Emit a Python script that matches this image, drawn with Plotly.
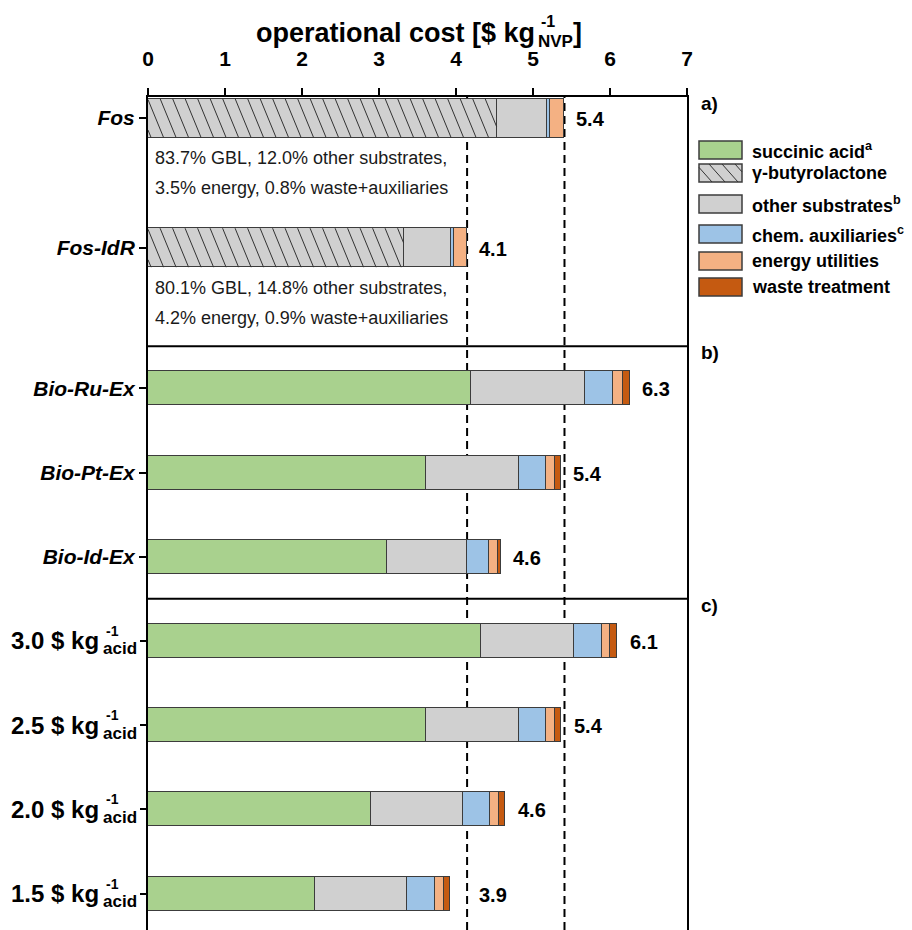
import numpy as np
import plotly.graph_objects as go

# ---------------- data ----------------
scenarios = ["Fos", "Fos-IdR", "Bio-Ru-Ex", "Bio-Pt-Ex", "Bio-Id-Ex",
             "3.0", "2.5", "2.0", "1.5"]
acid_prices = ["3.0", "2.5", "2.0", "1.5"]          # $ per kg succinic acid (panel c)

# cost contributions, $ per kg NVP
succinic_acid    = [None, None, 4.20, 3.61, 3.10, 4.33, 3.61, 2.90, 2.17]
gbl              = [4.528, 3.320, None, None, None, None, None, None, None]
other_substrates = [0.649, 0.613, 1.48, 1.21, 1.04, 1.20, 1.21, 1.19, 1.20]
chem_auxiliaries = [0.043, 0.037, 0.36, 0.35, 0.29, 0.36, 0.35, 0.35, 0.36]
energy_utilities = [0.189, 0.174, 0.13, 0.12, 0.12, 0.11, 0.12, 0.12, 0.11]
waste_treatment  = [None, None, 0.09, 0.07, 0.04, 0.09, 0.07, 0.08, 0.08]

fos_notes = [
    ["83.7% GBL, 12.0% other substrates,", "3.5% energy, 0.8% waste+auxiliaries"],
    ["80.1% GBL, 14.8% other substrates,", "4.2% energy, 0.9% waste+auxiliaries"],
]

components = [
    ("succinic acid", succinic_acid, "#a9d18e"),
    ("γ-butyrolactone", gbl, "#d0d0d0"),
    ("other substrates", other_substrates, "#d0d0d0"),
    ("chem. auxiliaries", chem_auxiliaries, "#9dc3e6"),
    ("energy utilities", energy_utilities, "#f4b183"),
    ("waste treatment", waste_treatment, "#c55a11"),
]

# ---------------- layout constants ----------------
W, H = 912, 930
L, R, T, B = 148, 225, 97, 0
PW, PH = W - L - R, H - T - B
ROW_PX = 84.2
row_pos = [0.25, 1.79, 3.46, 4.46, 5.46, 6.46, 7.46, 8.46, 9.46]
bar_w = [0.463, 0.463, 0.404, 0.404, 0.404, 0.404, 0.404, 0.404, 0.404]
label_shift = [10, 10, 10, 10, 10, 11, 11, 11, 27]
separators = [2.96, 5.96]
Y_MAX = PH / ROW_PX
X_MAX = 7
FONT = "Liberation Sans, Arial, sans-serif"
EDGE = "#3c3c3c"
N_NAMED = 5   # rows labelled by scenario name; the rest by acid price


def px_x(p):
    return (p - L) / PW


def px_y(p):
    return 1 - (p - T) / PH


def val(v):
    return 0.0 if v is None else v


totals = [sum(val(c[1][i]) for c in components) for i in range(len(scenarios))]

fig = go.Figure()

# stacked cost contributions
for name, vals, color in components:
    fig.add_trace(go.Bar(
        x=vals, y=row_pos, width=bar_w, orientation="h", name=name,
        marker=dict(color=color, line=dict(color=EDGE, width=1)),
        showlegend=False,
    ))

# diagonal hatching over the GBL segments
hx, hy = [], []
step = 12.5 * X_MAX / PW
slant = 16 * X_MAX / PW
for i, v in enumerate(gbl):
    if not v:
        continue
    x0, x1 = val(succinic_acid[i]), val(succinic_acid[i]) + v
    ytop, ybot = row_pos[i] - bar_w[i] / 2, row_pos[i] + bar_w[i] / 2
    for t in np.arange(x0 - slant + 0.04, x1, step):
        s_lo = max(0.0, (x0 - t) / slant)
        s_hi = min(1.0, (x1 - t) / slant)
        if s_hi <= s_lo:
            continue
        hx += [t + slant * s_lo, t + slant * s_hi, None]
        hy += [ytop + s_lo * (ybot - ytop), ytop + s_hi * (ybot - ytop), None]
fig.add_trace(go.Scatter(x=hx, y=hy, mode="lines", line=dict(color="#333333", width=1),
                         hoverinfo="skip", showlegend=False))

shapes = []
annotations = []

# fossil reference totals as dashed lines
for ref in totals[:2]:
    shapes.append(dict(type="line", xref="x", yref="paper", x0=ref, x1=ref, y0=0, y1=1,
                       line=dict(color="black", width=2, dash="8px,5px"), layer="below"))

# panel separators
for s in separators:
    shapes.append(dict(type="line", xref="paper", yref="y", x0=0, x1=1, y0=s, y1=s,
                       line=dict(color="black", width=2)))

# total value labels
for i, tot in enumerate(totals):
    annotations.append(dict(x=tot, y=row_pos[i], xref="x", yref="y", text=f"<b>{tot:.1f}</b>",
                            showarrow=False, xanchor="left", yanchor="middle",
                            xshift=label_shift[i], yshift=-1,
                            font=dict(family=FONT, size=20, color="black")))

# share notes under the fossil bars
for i, lines in enumerate(fos_notes):
    for j, line in enumerate(lines):
        annotations.append(dict(x=0, y=row_pos[i] + (0.475 + 0.355 * j), xref="x", yref="y",
                                text=line, showarrow=False, xanchor="left", yanchor="middle",
                                xshift=5, font=dict(family=FONT, size=18, color="#1a1a1a")))

# acid-price category labels with stacked unit
for k, price in enumerate(acid_prices):
    yc = T + row_pos[N_NAMED + k] * ROW_PX
    annotations.append(dict(x=px_x(101), y=px_y(yc), xref="paper", yref="paper",
                            text=f"<b>{price} $ kg</b>", showarrow=False, xanchor="right",
                            yanchor="middle", font=dict(family=FONT, size=24, color="black")))
    annotations.append(dict(x=px_x(104), y=px_y(yc - 10), xref="paper", yref="paper",
                            text="<b>-1</b>", showarrow=False, xanchor="left",
                            yanchor="middle", font=dict(family=FONT, size=14, color="black")))
    annotations.append(dict(x=px_x(101), y=px_y(yc + 8), xref="paper", yref="paper",
                            text="<b>acid</b>", showarrow=False, xanchor="left",
                            yanchor="middle", font=dict(family=FONT, size=17, color="black")))

# axis title with stacked unit
annotations += [
    dict(x=px_x(537), y=px_y(33), xref="paper", yref="paper", text="<b>operational cost [$ kg</b>",
         showarrow=False, xanchor="right", yanchor="middle", font=dict(family=FONT, size=27, color="black")),
    dict(x=px_x(539), y=px_y(22), xref="paper", yref="paper", text="<b>-1</b>",
         showarrow=False, xanchor="left", yanchor="middle", font=dict(family=FONT, size=16, color="black")),
    dict(x=px_x(536), y=px_y(41), xref="paper", yref="paper", text="<b>NVP</b>",
         showarrow=False, xanchor="left", yanchor="middle", font=dict(family=FONT, size=17, color="black")),
    dict(x=px_x(571), y=px_y(33), xref="paper", yref="paper", text="<b>]</b>",
         showarrow=False, xanchor="left", yanchor="middle", font=dict(family=FONT, size=27, color="black")),
]

# panel tags
for tag, yp in [("a)", 104), ("b)", 353), ("c)", 605)]:
    annotations.append(dict(x=px_x(699), y=px_y(yp), xref="paper", yref="paper", text=f"<b>{tag}</b>",
                            showarrow=False, xanchor="left", yanchor="middle",
                            font=dict(family=FONT, size=19, color="black")))

# legend
legend_items = [
    ("succinic acid<sup>a</sup>", "#a9d18e", 150, False),
    ("γ-butyrolactone", "#d0d0d0", 173, True),
    ("other substrates<sup>b</sup>", "#d0d0d0", 204, False),
    ("chem. auxiliaries<sup>c</sup>", "#9dc3e6", 234, False),
    ("energy utilities", "#f4b183", 261, False),
    ("waste treatment", "#c55a11", 287, False),
]
bx0, bx1, bh = 699, 742, 18
for text, color, yc, hatched in legend_items:
    shapes.append(dict(type="rect", xref="paper", yref="paper",
                       x0=px_x(bx0), x1=px_x(bx1), y0=px_y(yc + bh / 2), y1=px_y(yc - bh / 2),
                       fillcolor=color, line=dict(color=EDGE, width=1.5)))
    if hatched:
        for t in np.arange(bx0 - 16, bx1, 13):
            xa = t
            s_lo = max(0.0, (bx0 - xa) / 16)
            s_hi = min(1.0, (bx1 - xa) / 16)
            if s_hi <= s_lo:
                continue
            yt = yc - bh / 2
            shapes.append(dict(type="line", xref="paper", yref="paper",
                               x0=px_x(xa + 16 * s_lo), x1=px_x(xa + 16 * s_hi),
                               y0=px_y(yt + bh * s_lo), y1=px_y(yt + bh * s_hi),
                               line=dict(color="#333333", width=1)))
    annotations.append(dict(x=px_x(750), y=px_y(yc), xref="paper", yref="paper", text=f"<b>{text}</b>",
                            showarrow=False, xanchor="left", yanchor="middle",
                            font=dict(family=FONT, size=18, color="black")))

# invisible trace so the tick-only axis for the acid-price rows is drawn
fig.add_trace(go.Scatter(x=[None], y=[None], yaxis="y2", showlegend=False, hoverinfo="skip"))

fig.update_layout(
    width=W, height=H,
    margin=dict(l=L, r=R, t=T, b=B, pad=0),
    barmode="stack",
    bargap=0,
    paper_bgcolor="white", plot_bgcolor="white",
    shapes=shapes, annotations=annotations,
    font=dict(family=FONT, color="black"),
    xaxis=dict(side="top", range=[0, X_MAX], tickvals=list(range(X_MAX + 1)),
               ticktext=[f"<b>{v}</b>" for v in range(X_MAX + 1)],
               ticks="outside", ticklen=7, tickwidth=2, tickcolor="black",
               ticklabelstandoff=14,
               showline=True, linewidth=2, linecolor="black",
               showgrid=False, zeroline=False,
               tickfont=dict(family=FONT, size=21, color="black")),
    yaxis=dict(range=[Y_MAX, 0], tickvals=row_pos[:N_NAMED],
               ticktext=[f"<b><i>{s}</i></b>" for s in scenarios[:N_NAMED]],
               ticks="outside", ticklen=7, tickwidth=2, tickcolor="black",
               showline=True, mirror=True, linewidth=2, linecolor="black",
               showgrid=False, zeroline=False,
               tickfont=dict(family=FONT, size=21, color="black")),
    yaxis2=dict(overlaying="y", side="left", range=[Y_MAX, 0], tickvals=row_pos[N_NAMED:],
                showticklabels=False, ticks="outside", ticklen=7, tickwidth=2, tickcolor="black",
                showline=False, showgrid=False, zeroline=False),
)

fig.write_html("out.html")
